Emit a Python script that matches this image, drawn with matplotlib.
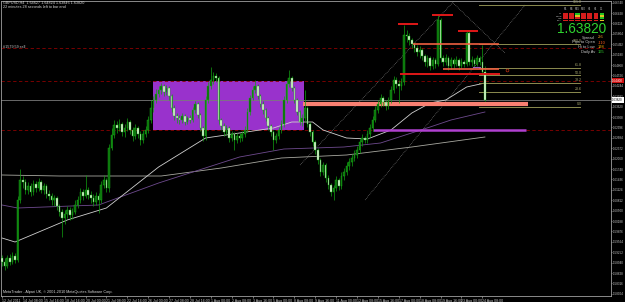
import numpy as np
import matplotlib
matplotlib.use('Agg')
import matplotlib.pyplot as plt
from matplotlib.patches import Rectangle

# GBPUSD H4, 12 Jul - 24 Aug 2011

first_open = 1.5908

closes = [1.5896, 1.5884, 1.5908, 1.5896, 1.5914, 1.5902, 1.6082, 1.6142, 1.6136, 1.6112,
          1.6124, 1.6106, 1.6130, 1.6118, 1.6136, 1.6112, 1.6124, 1.6100, 1.6094, 1.6082,
          1.6088, 1.6064, 1.6046, 1.6028, 1.6040, 1.6052, 1.6037, 1.6046, 1.6067, 1.6082,
          1.6106, 1.6094, 1.6112, 1.6097, 1.6088, 1.6076, 1.6094, 1.6082, 1.6127, 1.6142,
          1.6118, 1.6238, 1.6277, 1.6307, 1.6298, 1.6310, 1.6286, 1.6298, 1.6316, 1.6292,
          1.6274, 1.6298, 1.6280, 1.6262, 1.6280, 1.6292, 1.6322, 1.6358, 1.6382, 1.6400,
          1.6412, 1.6424, 1.6406, 1.6418, 1.6394, 1.6358, 1.6334, 1.6328, 1.6322, 1.6334,
          1.6316, 1.6328, 1.6322, 1.6352, 1.6370, 1.6337, 1.6298, 1.6274, 1.6382, 1.6424,
          1.6442, 1.6454, 1.6448, 1.6322, 1.6304, 1.6286, 1.6298, 1.6268, 1.6280, 1.6262,
          1.6274, 1.6268, 1.6280, 1.6292, 1.6346, 1.6388, 1.6412, 1.6424, 1.6394, 1.6370,
          1.6352, 1.6328, 1.6304, 1.6286, 1.6262, 1.6274, 1.6292, 1.6310, 1.6382, 1.6430,
          1.6448, 1.6418, 1.6382, 1.6346, 1.6316, 1.6328, 1.6358, 1.6310, 1.6286, 1.6256,
          1.6232, 1.6202, 1.6166, 1.6187, 1.6148, 1.6127, 1.6106, 1.6118, 1.6142, 1.6124,
          1.6154, 1.6166, 1.6184, 1.6196, 1.6208, 1.6217, 1.6232, 1.6256, 1.6268, 1.6262,
          1.6280, 1.6298, 1.6322, 1.6352, 1.6370, 1.6388, 1.6376, 1.6364, 1.6382, 1.6412,
          1.6442, 1.6430, 1.6424, 1.6436, 1.6577, 1.6574, 1.6562, 1.6550, 1.6538, 1.6526,
          1.6532, 1.6514, 1.6496, 1.6508, 1.6484, 1.6502, 1.6490, 1.6622, 1.6508, 1.6496,
          1.6508, 1.6484, 1.6502, 1.6490, 1.6502, 1.6484, 1.6496, 1.6490, 1.6583, 1.6496,
          1.6502, 1.6490, 1.6508, 1.6496, 1.6466, 1.6382]

highs = [1.5917, 1.5908, 1.5917, 1.5920, 1.5926, 1.5923, 1.6094, 1.6175, 1.6154, 1.6145,
         1.6136, 1.6133, 1.6142, 1.6139, 1.6148, 1.6142, 1.6133, 1.6130, 1.6112, 1.6103,
         1.6097, 1.6094, 1.6070, 1.6055, 1.6052, 1.6064, 1.6061, 1.6058, 1.6082, 1.6094,
         1.6118, 1.6115, 1.6157, 1.6121, 1.6109, 1.6100, 1.6106, 1.6103, 1.6139, 1.6157,
         1.6148, 1.6250, 1.6298, 1.6322, 1.6319, 1.6325, 1.6316, 1.6310, 1.6328, 1.6322,
         1.6301, 1.6310, 1.6304, 1.6289, 1.6292, 1.6304, 1.6334, 1.6382, 1.6394, 1.6415,
         1.6424, 1.6433, 1.6430, 1.6427, 1.6424, 1.6400, 1.6367, 1.6343, 1.6337, 1.6343,
         1.6340, 1.6334, 1.6337, 1.6361, 1.6379, 1.6376, 1.6343, 1.6304, 1.6394, 1.6436,
         1.6481, 1.6466, 1.6463, 1.6454, 1.6328, 1.6313, 1.6307, 1.6304, 1.6289, 1.6286,
         1.6283, 1.6283, 1.6289, 1.6304, 1.6358, 1.6397, 1.6424, 1.6442, 1.6430, 1.6400,
         1.6379, 1.6358, 1.6334, 1.6310, 1.6292, 1.6283, 1.6301, 1.6322, 1.6394, 1.6442,
         1.6472, 1.6454, 1.6424, 1.6388, 1.6352, 1.6340, 1.6412, 1.6364, 1.6316, 1.6292,
         1.6262, 1.6238, 1.6208, 1.6196, 1.6193, 1.6157, 1.6133, 1.6127, 1.6154, 1.6148,
         1.6166, 1.6178, 1.6196, 1.6208, 1.6220, 1.6232, 1.6244, 1.6265, 1.6280, 1.6274,
         1.6292, 1.6310, 1.6334, 1.6364, 1.6382, 1.6400, 1.6394, 1.6382, 1.6391, 1.6424,
         1.6454, 1.6451, 1.6442, 1.6448, 1.6607, 1.6592, 1.6583, 1.6568, 1.6556, 1.6547,
         1.6544, 1.6538, 1.6520, 1.6517, 1.6514, 1.6511, 1.6508, 1.6637, 1.6628, 1.6517,
         1.6520, 1.6514, 1.6511, 1.6508, 1.6514, 1.6508, 1.6508, 1.6502, 1.6589, 1.6592,
         1.6514, 1.6508, 1.6517, 1.6514, 1.6547, 1.6484]

lows = [1.5884, 1.5872, 1.5878, 1.5887, 1.5890, 1.5893, 1.5896, 1.6073, 1.6118, 1.6100,
        1.6100, 1.6094, 1.6097, 1.6106, 1.6109, 1.6103, 1.6100, 1.6088, 1.6082, 1.6067,
        1.6064, 1.6052, 1.6034, 1.5971, 1.6010, 1.6028, 1.6022, 1.6025, 1.6040, 1.6058,
        1.6073, 1.6082, 1.6088, 1.6085, 1.6073, 1.6064, 1.6067, 1.6043, 1.6073, 1.6118,
        1.6106, 1.6106, 1.6232, 1.6268, 1.6283, 1.6289, 1.6274, 1.6271, 1.6289, 1.6280,
        1.6259, 1.6265, 1.6268, 1.6247, 1.6253, 1.6271, 1.6283, 1.6313, 1.6346, 1.6373,
        1.6391, 1.6400, 1.6394, 1.6397, 1.6382, 1.6346, 1.6322, 1.6313, 1.6310, 1.6313,
        1.6307, 1.6310, 1.6313, 1.6316, 1.6343, 1.6328, 1.6289, 1.6259, 1.6262, 1.6373,
        1.6415, 1.6430, 1.6436, 1.6310, 1.6292, 1.6274, 1.6277, 1.6256, 1.6259, 1.6232,
        1.6253, 1.6256, 1.6259, 1.6271, 1.6286, 1.6337, 1.6382, 1.6403, 1.6385, 1.6361,
        1.6340, 1.6319, 1.6292, 1.6274, 1.6232, 1.6253, 1.6265, 1.6283, 1.6301, 1.6373,
        1.6421, 1.6409, 1.6373, 1.6337, 1.6307, 1.6304, 1.6319, 1.6301, 1.6274, 1.6244,
        1.6220, 1.6190, 1.6154, 1.6157, 1.6136, 1.6115, 1.6094, 1.6082, 1.6109, 1.6112,
        1.6115, 1.6142, 1.6157, 1.6172, 1.6184, 1.6199, 1.6208, 1.6223, 1.6244, 1.6253,
        1.6253, 1.6271, 1.6289, 1.6316, 1.6343, 1.6361, 1.6364, 1.6352, 1.6355, 1.6373,
        1.6403, 1.6418, 1.6373, 1.6412, 1.6427, 1.6556, 1.6547, 1.6538, 1.6526, 1.6514,
        1.6508, 1.6502, 1.6484, 1.6481, 1.6472, 1.6475, 1.6478, 1.6484, 1.6496, 1.6484,
        1.6487, 1.6472, 1.6475, 1.6478, 1.6484, 1.6472, 1.6478, 1.6481, 1.6484, 1.6487,
        1.6484, 1.6481, 1.6484, 1.6487, 1.6460, 1.6379]

# medias moviles (barra, precio)
ma_fast_bars = [0, 5, 25, 40, 60, 78, 91, 104, 111, 119, 123, 132, 140, 149, 157, 164, 170, 178, 185]
ma_fast_vals = [1.5968, 1.5956, 1.6022, 1.6058, 1.6181, 1.6268, 1.6283, 1.6298, 1.6316, 1.6316,
                1.6292, 1.6268, 1.6265, 1.6292, 1.6343, 1.6373, 1.6382, 1.6421, 1.6433]
ma_mid_bars = [0, 6, 37, 60, 91, 108, 131, 145, 164, 172, 185]
ma_mid_vals = [1.6067, 1.6058, 1.6067, 1.6133, 1.6211, 1.6235, 1.6241, 1.6253, 1.6301, 1.6322, 1.6346]
ma_slow_bars = [0, 22, 61, 84, 107, 132, 157, 185]
ma_slow_vals = [1.6157, 1.6154, 1.6154, 1.6178, 1.6208, 1.6217, 1.6241, 1.6271]

# objetos dibujados
box_bars = [57.7, 115.7]
box_prices = [1.6292, 1.6440]
salmon_bars = [115.3, 201.5]
salmon_price = 1.6369
purple_bars = [142.1, 200.8]
purple_price = 1.6291
dash_prices = [1.6538, 1.6440, 1.6292]
bid = 1.6382
red_marks = [(151.7, 159.4, 1.6610), (164.8, 172.8, 1.6637), (174.7, 182.4, 1.6589),
             (152.5, 190.8, 1.6460)]
orange_marks = [(157.5, 190.4, 1.6550), (169.0, 190.4, 1.6475)]
channel_lines = [((114.2, 1.6187), (173.6, 1.6682)),
                 ((139.1, 1.6082), (200.4, 1.6667)),
                 ((172.8, 1.6673), (192.7, 1.6523))]

fib_low = 1.6361
fib_high = 1.6550
fib_levels = [0.0, 23.6, 38.2, 50.0, 61.8, 100.0, 161.8]
fib_bars = [182.8, 221.5]

price_ticks = [1.66740, 1.66428, 1.66116, 1.65804, 1.65492, 1.65180, 1.64868, 1.64556,
               1.64244, 1.63932, 1.63620, 1.63308, 1.62996, 1.62684, 1.62372, 1.62060,
               1.61748, 1.61436, 1.61124, 1.60812, 1.60500, 1.60188, 1.59876, 1.59564,
               1.59252, 1.58940, 1.58628, 1.58316, 1.58004]
date_labels = ['12 Jul 2011', '14 Jul 08:00', '15 Jul 16:00', '18 Jul 16:00', '20 Jul 00:00',
               '21 Jul 08:00', '22 Jul 16:00', '26 Jul 00:00', '27 Jul 08:00', '28 Jul 16:00',
               '1 Aug 00:00', '2 Aug 08:00', '3 Aug 16:00', '5 Aug 00:00', '8 Aug 08:00',
               '9 Aug 16:00', '11 Aug 00:00', '12 Aug 08:00', '15 Aug 16:00', '17 Aug 00:00',
               '18 Aug 08:00', '19 Aug 16:00', '23 Aug 00:00', '24 Aug 08:00']

grid_cols = ['M1', 'M5', 'M15', 'M30', 'H1', 'H4', 'D1']
grid_rows = ['S1', 'MACD', 'STR', 'EMA']
grid_state = [[0, 0, 1, 0, 0, 0, 1],
              [0, 0, 2, 0, 0, 0, 2],
              [0, 0, 0, 0, 0, 0, 1],
              [0, 0, 0, 0, 0, 0, 2]]
info_labels = ['Spread', 'Pips to Open', 'Hi to Low', 'Daily Av']
info_values = ['2.6', '-110', '198', '165']

# Grafica

W, H = 625, 302
narrow = ['Liberation Sans Narrow', 'Liberation Sans', 'DejaVu Sans']
plt.rcParams['font.family'] = narrow

fig = plt.figure(figsize=(W / 100, H / 100), dpi=100, facecolor='black')
ax = fig.add_axes([1 / W, 6 / H, 610 / W, 295 / H], facecolor='black')

closes = np.array(closes)
highs = np.array(highs)
lows = np.array(lows)
opens = np.r_[first_open, closes[:-1]]
x = np.arange(len(closes))
up = closes >= opens

# rectangulo
ax.add_patch(Rectangle((box_bars[0], box_prices[0]), box_bars[1] - box_bars[0],
                       box_prices[1] - box_prices[0], facecolor='#9932cc', edgecolor='none', zorder=1))

for p in dash_prices:
    ax.axhline(p, color='#8b0000', lw=0.6, ls=(0, (4, 3)), zorder=1.5)
ax.axhline(bid, color='#7a7a7a', lw=0.6, zorder=1.5)

for (a, b), (c, d) in channel_lines:
    ax.plot([a, c], [b, d], color='#8c8c8c', lw=0.5, ls=(0, (1, 1.5)), zorder=1.5)

ax.plot(ma_slow_bars, ma_slow_vals, color='#a8a8a0', lw=0.6, zorder=2)
ax.plot(ma_mid_bars, ma_mid_vals, color='#6e4a8e', lw=0.6, zorder=2)
ax.plot(ma_fast_bars, ma_fast_vals, color='#d0d0d0', lw=0.6, zorder=2)

ax.plot(salmon_bars, [salmon_price] * 2, color='#fa8072', lw=3.0, solid_capstyle='butt', zorder=2.5)
ax.plot(purple_bars, [purple_price] * 2, color='#b040d0', lw=1.8, solid_capstyle='butt', zorder=2.5)

# velas
ax.vlines(x, lows, highs, color='#12a012', lw=0.5, zorder=3)
ax.bar(x[up], closes[up] - opens[up], bottom=opens[up], width=0.6,
       color='#0b6e0b', edgecolor='#19b019', lw=0.3, zorder=4)
ax.bar(x[~up], opens[~up] - closes[~up], bottom=closes[~up], width=0.6,
       color='#e6f6dc', edgecolor='#19b019', lw=0.3, zorder=4)

for a, b, p in red_marks:
    ax.plot([a, b], [p, p], color='#e01818', lw=1.4, solid_capstyle='butt', zorder=5)
for a, b, p in orange_marks:
    ax.plot([a, b], [p, p], color='#f06040', lw=1.2, solid_capstyle='butt', zorder=5)
ax.plot([180.5, 183.2], [1.6481, 1.6481], color='#9a60c0', lw=0.8, zorder=5)
ax.plot([193.6], [1.6472], marker='o', ms=2, mfc='none', mec='#c03010', mew=0.5, zorder=5)

# fibonacci
for lv in fib_levels:
    p = fib_low + (fib_high - fib_low) * lv / 100
    ax.plot(fib_bars, [p, p], color='#8c8c50', lw=0.7, zorder=2)
    ax.text(fib_bars[1] + 0.5, p + 0.0002, '%.1f' % lv, color='#a8a870', fontsize=2.6,
            ha='right', va='bottom', zorder=6)

ax.set_xlim(-0.38, 233.3)
ax.set_ylim(1.5794, 1.6679)

ax.yaxis.tick_right()
ax.set_yticks(price_ticks)
ax.set_yticklabels(['%.5f' % v for v in price_ticks])
ax.set_xticks(np.arange(len(date_labels)) * 8)
ax.set_xticklabels(date_labels, ha='left')
ax.tick_params(axis='both', colors='#c8c8c8', labelsize=2.6, length=1.5, width=0.4, pad=0.8)
ax.tick_params(axis='y', labelsize=2.2, length=1.0, pad=0.4)
for s in ax.spines.values():
    s.set_color('#a0a0a0')
    s.set_linewidth(0.6)

tr = ax.get_yaxis_transform()
ax.text(1.002, 1.6440, '1.64400', transform=tr, fontsize=2.2, color='white', va='center',
        ha='left', bbox=dict(facecolor='#d01010', edgecolor='none', pad=0.5), clip_on=False)
ax.text(1.002, bid, '1.63820', transform=tr, fontsize=2.2, color='black', va='center',
        ha='left', bbox=dict(facecolor='white', edgecolor='none', pad=0.5), clip_on=False)


def px(xp, yp):
    return xp / W, 1 - yp / H


fig.text(*px(3, 3), 'GBPUSD,H4  1.64627 1.64824 1.63846 1.63820', color='#d8d8d8',
         fontsize=2.7, va='center')
fig.text(*px(3, 7.5), '22 minutes 28 seconds left to bar end', color='#d8d8d8',
         fontsize=2.7, va='center')
fig.text(*px(3, 47), '#1579.59 sell', color='#c8c8c8', fontsize=2.7, va='center')
fig.text(*px(3, 292), 'MetaTrader - Alpari UK, \u00a9 2001-2010 MetaQuotes Software Corp.',
         color='#d8d8d8', fontsize=2.7, va='center')

# panel de senales
cell_colors = {0: '#d41c1c', 1: '#22c022', 2: '#e0c020'}
for j, c in enumerate(grid_cols):
    cx = 563 + j * 6.1
    fig.text(*px(cx + 2, 9.5), c, color='#c0c0c0', fontsize=1.8, ha='center', va='center')
    for i, r in enumerate(grid_rows):
        fig.patches.append(Rectangle(px(cx, 13 + i * 2.2 + 1.8), 4.6 / W, 1.7 / H,
                                     transform=fig.transFigure, facecolor=cell_colors[grid_state[i][j]],
                                     edgecolor='none'))
for i, r in enumerate(grid_rows):
    fig.text(*px(562, 13.9 + i * 2.2), r, color='#c0c0c0', fontsize=1.6, ha='right', va='center')

fig.text(*px(582, 29), '1.63820', color='#2fd42f', fontsize=9.8, ha='center', va='center',
         family=['Liberation Sans', 'DejaVu Sans'])
info_colors = ['#ffa020', '#ff5a1a', '#ffb000', '#30d030']
for i, (lab, val) in enumerate(zip(info_labels, info_values)):
    yy = 37.5 + i * 5.0
    fig.text(*px(595, yy), lab, color='#c8c8c8', fontsize=2.9, ha='right', va='center',
             family=['Liberation Sans', 'DejaVu Sans'])
    fig.text(*px(598, yy), val, color=info_colors[i], fontsize=2.9, ha='left', va='center',
             family=['Liberation Sans', 'DejaVu Sans'])

fig.savefig('out.png', dpi=100, facecolor='black')
